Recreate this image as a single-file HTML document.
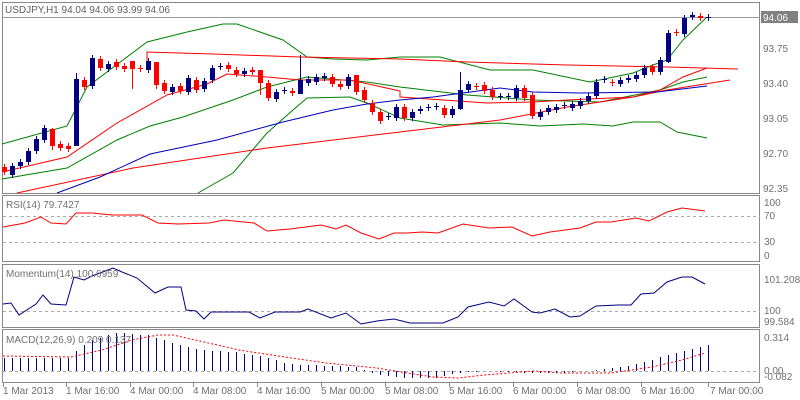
<!DOCTYPE html>
<html><head><meta charset="utf-8"><style>
body{margin:0;background:#fff;}
svg{display:block;font-family:"Liberation Sans",sans-serif;}
</style></head><body>
<svg id="s" width="800" height="400" viewBox="0 0 800 400" xmlns="http://www.w3.org/2000/svg">
<rect width="800" height="400" fill="#fff"/>
<g id="g"></g>
<g font-size="10" fill="#707070">
<text x="5" y="13" fill="#606060">USDJPY,H1  94.04 94.06 93.99 94.06</text>
<text x="763" y="52">93.75</text>
<text x="763" y="87">93.40</text>
<text x="763" y="122">93.05</text>
<text x="763" y="157">92.70</text>
<text x="763" y="192">92.35</text>
<text x="6" y="208">RSI(14) 79.7427</text>
<text x="764" y="206">100</text><text x="764" y="219">70</text><text x="764" y="245">30</text><text x="764" y="259">0</text>
<text x="6" y="277">Momentum(14) 100.6959</text>
<text x="764" y="283">101.2089</text><text x="764" y="314">100</text><text x="764" y="325">99.584</text>
<text x="6" y="343">MACD(12,26,9) 0.209 0.137</text>
<text x="764" y="341">0.314</text><text x="764" y="374">0.00</text><text x="764" y="380">-0.082</text>
<text x="3" y="394">1 Mar 2013</text>
<text x="66" y="394">1 Mar 16:00</text>
<text x="130" y="394">4 Mar 00:00</text>
<text x="193" y="394">4 Mar 08:00</text>
<text x="257" y="394">4 Mar 16:00</text>
<text x="321" y="394">5 Mar 00:00</text>
<text x="385" y="394">5 Mar 08:00</text>
<text x="449" y="394">5 Mar 16:00</text>
<text x="513" y="394">6 Mar 00:00</text>
<text x="577" y="394">6 Mar 08:00</text>
<text x="641" y="394">6 Mar 16:00</text>
<text x="710" y="394">7 Mar 00:00</text>
</g>
<rect x="761" y="11" width="37" height="12" fill="#808080"/>
<text x="763" y="21" font-size="10" fill="#fff">94.06</text>
</svg>
<script>
var g=document.getElementById('g'),h='';
function pl(pts,c,w,d){h+='<polyline fill="none" stroke="'+c+'" stroke-width="'+(w||1)+'"'+(d?' stroke-dasharray="'+d+'"':'')+' points="'+pts.map(function(p){return p.join(',')}).join(' ')+'"/>';}
function ln(x1,y1,x2,y2,c,d){h+='<line x1="'+x1+'" y1="'+y1+'" x2="'+x2+'" y2="'+y2+'" stroke="'+c+'"'+(d?' stroke-dasharray="'+d+'"':'')+'/>';}
// frames
h+='<rect x="2.5" y="2.5" width="757" height="191" fill="none" stroke="#888"/>';
h+='<rect x="2.5" y="195.5" width="757" height="66" fill="none" stroke="#888"/>';
h+='<rect x="2.5" y="264.5" width="757" height="63" fill="none" stroke="#888"/>';
h+='<rect x="2.5" y="329.5" width="757" height="53" fill="none" stroke="#888"/>';
ln(3,17.5,760,17.5,'#999');
for(var i=0;i<12;i++){var tx=[3,66,130,193,257,321,385,449,513,577,641,708][i];ln(tx+.5,383,tx+.5,387,'#888');}
// main indicators
pl([[2,144],[67,126],[87,87],[147,42],[187,32],[223,24],[237,24],[283,40],[307,57],[333,59],[367,60],[400,57],[440,57],[490,70],[533,70],[590,82],[633,73],[653,65],[667,60],[683,40],[707,17]],'#008000');
pl([[2,179],[67,168],[117,140],[150,126],[183,117],[233,100],[267,87],[307,77],[367,82],[400,87],[467,95],[533,100],[600,102],[660,90],[683,82],[707,77]],'#008000');
pl([[198,193],[233,173],[267,133],[293,110],[307,98],[350,97],[367,103],[400,118],[443,125],[500,123],[540,126],[583,124],[613,126],[633,122],[660,122],[677,132],[707,138]],'#008000');
pl([[2,172],[67,157],[117,123],[167,95],[207,84],[227,74],[267,77],[300,80],[350,80],[400,91],[400,97],[487,103],[533,102],[567,100],[633,97],[660,90],[683,77],[707,68]],'#ff0000');
pl([[147,62],[147,52],[213,54],[300,57],[400,59],[467,62],[567,65],[667,67],[738,69]],'#ff0000');
pl([[17,193],[133,168],[267,148],[400,132],[500,120],[567,107],[633,97],[667,90],[730,80]],'#ff0000');
pl([[57,193],[100,177],[150,154],[217,140],[283,122],[333,110],[367,104],[400,100],[433,97],[500,88],[533,92],[580,93],[657,92],[707,86]],'#0000c0');
// candles [open, close] in y pixels
var C=[[167,172],[175,166],[166,162],[162,151],[151,139],[140,128],[129,146],[144,148],[146,149],[146,79],[80,87],[86,58],[59,68],[69,64],[62,67],[66,69],[61,69],[68,69],[70,61],[62,85],[83,91],[92,87],[86,91],[92,78],[80,90],[89,81],[80,68],[67,66],[65,69],[70,74],[74,71],[70,72],[70,83],[83,98],[99,92],[91,90],[91,93],[94,80],[83,79],[82,77],[78,76],[77,84],[84,87],[86,77],[75,92],[90,100],[103,112],[112,121],[117,116],[118,107],[107,118],[118,112],[111,109],[108,107],[107,106],[108,115],[115,109],[109,90],[90,84],[86,87],[85,91],[90,97],[97,96],[97,96],[98,88],[88,98],[95,116],[117,112],[112,108],[110,107],[106,105],[108,104],[106,101],[101,96],[96,82],[80,79],[82,83],[84,80],[80,78],[79,75],[75,68],[67,72],[72,60],[62,33],[32,33],[34,18],[17,15],[16,18],[18,17]];
var W={9:[73,146],16:[61,89],37:[55,82],57:[72,110],19:[62,89],6:[128,150],32:[70,95],44:[75,95],83:[30,63]};
for(var i=0;i<C.length;i++){var x=4+8*i,o=C[i][0],c=C[i][1],bull=c<o,col=bull?'#000080':'#ff0000';
var t=Math.min(o,c),b=Math.max(o,c);var hi=t-3,lo=b+3;if(W[i]){hi=W[i][0];lo=W[i][1];}
h+='<line x1="'+(x+.5)+'" y1="'+hi+'" x2="'+(x+.5)+'" y2="'+lo+'" stroke="'+col+'"/>';
h+='<rect x="'+(x-2)+'" y="'+t+'" width="5" height="'+Math.max(1,b-t)+'" fill="'+col+'"/>';}
// RSI
ln(3,216.5,760,216.5,'#aaa','3,3');ln(3,242.5,760,242.5,'#aaa','3,3');
pl([[3,227],[25,223],[41,217],[51,223],[66,224],[76,213],[92,213],[112,215],[142,215],[158,223],[178,224],[209,223],[224,220],[254,223],[267,231],[290,229],[321,225],[336,229],[346,225],[361,233],[379,239],[394,233],[407,233],[422,232],[438,233],[463,224],[489,228],[512,227],[532,236],[550,232],[580,228],[596,222],[611,222],[636,218],[649,221],[667,212],[682,208],[705,211]],'#ff0000');
// Momentum
ln(3,311.5,760,311.5,'#aaa','3,3');
pl([[3,304],[11,303],[19,315],[36,304],[43,295],[51,304],[66,305],[74,277],[84,280],[92,276],[113,268],[122,272],[137,278],[155,293],[168,287],[181,287],[186,310],[196,311],[204,319],[211,312],[249,312],[260,318],[275,312],[300,312],[308,309],[331,318],[346,313],[361,324],[377,321],[394,319],[410,323],[443,323],[458,317],[468,307],[489,302],[504,306],[514,299],[532,312],[540,313],[555,309],[570,317],[580,316],[596,306],[618,305],[631,305],[641,294],[654,293],[667,282],[682,277],[692,277],[705,284]],'#000080');
// MACD
ln(3,371.5,760,371.5,'#aaa','3,3');
var M=[[0,358],[70,358],[74,353],[92,340],[117,333],[148,335],[173,343],[188,347],[204,350],[234,352],[265,357],[285,363],[305,365],[356,367],[377,375],[407,378],[438,378],[458,373],[484,371],[534,373],[560,373],[600,370],[621,367],[641,363],[662,357],[682,352],[708,345]];
function interp(A,x){for(var k=0;k<A.length-1;k++){if(x>=A[k][0]&&x<=A[k+1][0]){var f=(x-A[k][0])/(A[k+1][0]-A[k][0]);return A[k][1]+f*(A[k+1][1]-A[k][1]);}}return A[A.length-1][1];}
for(var i=0;i<89;i++){var x=4+8*i+.5,y=Math.round(interp(M,x));if(Math.abs(y-371)>0)ln(x,Math.min(y,371),x,Math.max(y,371),'#000080');}
pl([[3,356],[71,357],[102,350],[132,340],[158,335],[173,335],[204,342],[239,350],[285,357],[326,363],[377,368],[407,373],[433,377],[458,378],[484,375],[534,371],[560,373],[611,373],[652,367],[682,360],[705,353]],'#ff0000',1,'2,2');
g.innerHTML=h;
</script>
</body></html>
